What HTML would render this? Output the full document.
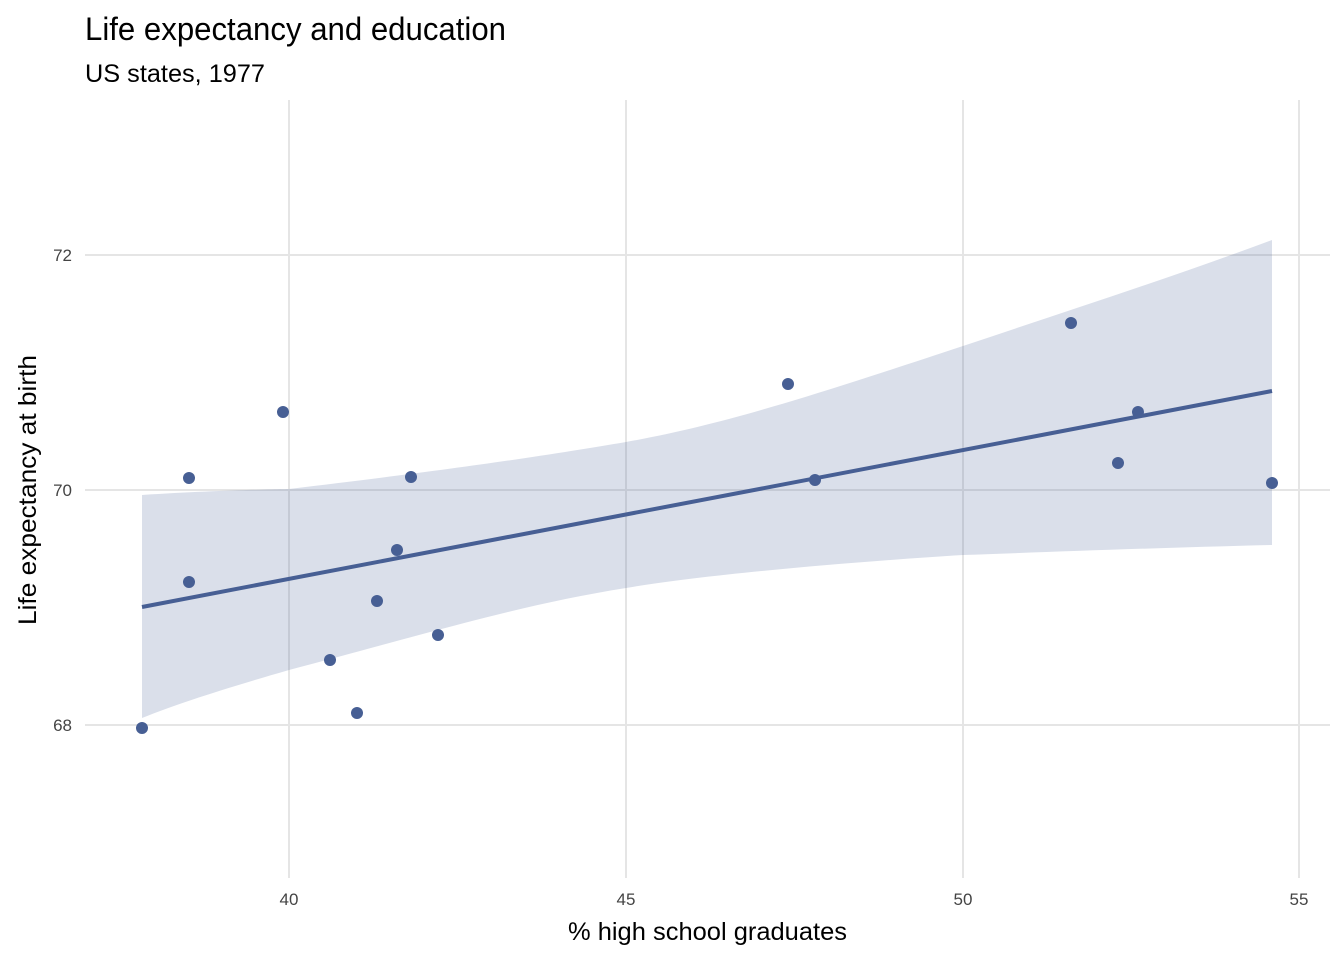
<!DOCTYPE html>
<html><head><meta charset="utf-8"><style>
body{margin:0;background:#fff;}
svg text{font-family:"Liberation Sans Narrow","Liberation Sans",sans-serif;}
</style></head><body>
<svg width="1344" height="960" viewBox="0 0 1344 960" xmlns="http://www.w3.org/2000/svg">
<rect width="1344" height="960" fill="#fff"/>
<g stroke="#e5e5e5" stroke-width="2">
<line x1="289" y1="100" x2="289" y2="878"/>
<line x1="626" y1="100" x2="626" y2="878"/>
<line x1="963" y1="100" x2="963" y2="878"/>
<line x1="1299" y1="100" x2="1299" y2="878"/>
<line x1="85" y1="255" x2="1330" y2="255"/>
<line x1="85" y1="490" x2="1330" y2="490"/>
<line x1="85" y1="725" x2="1330" y2="725"/>
</g>
<path d="M142,495 C220,490 289,489 289,489 C450,470 550,455 626,442 C720,425 800,400 963,346 C1070,310 1170,278 1272,240 L1272,545 C1150,548 1050,552 963,555 C850,562 700,575 626,588 C520,605 440,630 289,670 C220,690 180,703 142,718 Z" fill="#475f94" fill-opacity="0.2"/>
<line x1="142" y1="607" x2="1272" y2="391" stroke="#475f94" stroke-width="4"/>
<g fill="#475f94">
<circle cx="142" cy="728" r="6"/><circle cx="189" cy="478" r="6"/><circle cx="189" cy="582" r="6"/>
<circle cx="283" cy="412" r="6"/><circle cx="330" cy="660" r="6"/><circle cx="357" cy="713" r="6"/>
<circle cx="377" cy="601" r="6"/><circle cx="397" cy="550" r="6"/><circle cx="411" cy="477" r="6"/>
<circle cx="438" cy="635" r="6"/><circle cx="788" cy="384" r="6"/><circle cx="815" cy="480" r="6"/>
<circle cx="1071" cy="323" r="6"/><circle cx="1118" cy="463" r="6"/><circle cx="1138" cy="412" r="6"/>
<circle cx="1272" cy="483" r="6"/>
</g>
<g fill="#444" font-size="17" text-anchor="end">
<text x="72" y="261">72</text><text x="72" y="496">70</text><text x="72" y="731">68</text>
</g>
<g fill="#444" font-size="17" text-anchor="middle">
<text x="289" y="905">40</text><text x="626" y="905">45</text><text x="963" y="905">50</text><text x="1299" y="905">55</text>
</g>
<text x="568" y="940" font-size="25" textLength="279" lengthAdjust="spacingAndGlyphs" fill="#000">% high school graduates</text>
<text transform="translate(36,625) rotate(-90)" font-size="25" textLength="270" lengthAdjust="spacingAndGlyphs" fill="#000">Life expectancy at birth</text>
<text x="85" y="40" font-size="32" textLength="421" lengthAdjust="spacingAndGlyphs" fill="#000">Life expectancy and education</text>
<text x="85" y="82" font-size="25" textLength="180" lengthAdjust="spacingAndGlyphs" fill="#000">US states, 1977</text>
</svg>
</body></html>
